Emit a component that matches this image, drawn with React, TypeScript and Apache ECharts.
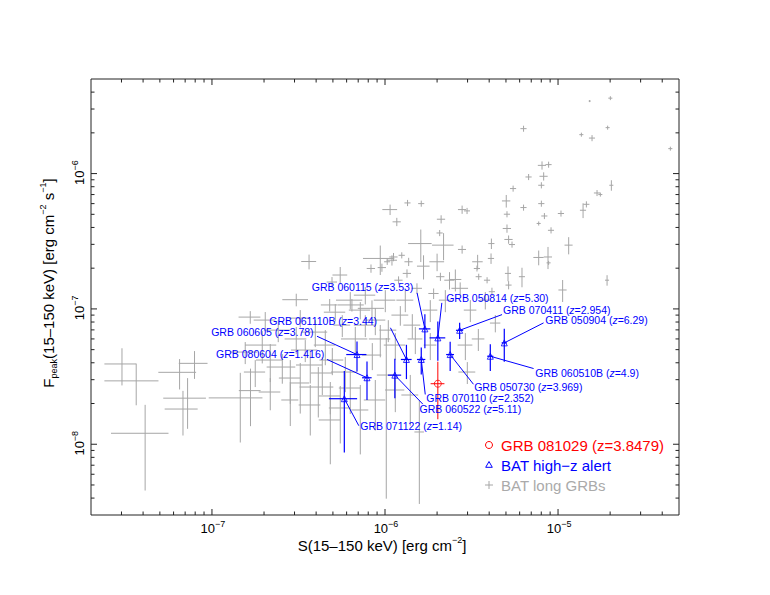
import { useEffect, useRef } from 'react';
import * as echarts from 'echarts';

// units for the data tables below
const S_UNIT = 1e-7; // fluence, erg cm^-2
const F_UNIT = 1e-8; // peak flux, erg cm^-2 s^-1

const X_RANGE = [2e-8, 5e-5];
const Y_RANGE = [3e-9, 5e-6];
const X_TICK_LABELS = [1e-7, 1e-6, 1e-5];
const Y_TICK_LABELS = [1e-8, 1e-7, 1e-6];

// BAT long GRBs: [S, dS, Fpeak, dFpeak] in S_UNIT / F_UNIT
const BAT_LONG: number[][] = [
  [0.302, 0.063, 3.92, 1.2], [0.365, 0.126, 2.94, 1.0], [0.411, 0.15, 1.205, 0.75],
  [0.65, 0.16, 3.4, 0.86], [0.793, 0.15, 3.96, 0.92], [0.723, 0.2, 2.19, 0.89],
  [0.68, 0.147, 1.82, 0.66], [1.458, 0.5, 2.2, 1.17], [1.67, 0.24, 2.49, 1.13],
  [3.64, 0.36, 22.4, 2.8], [3.07, 0.52, 11.7, 1.25], [5.51, 0.54, 17.8, 2.6],
  [4.94, 0.34, 15.8, 1.4], [10.7, 1.05, 54.2, 4.8], [11.7, 0.64, 44, 3.1],
  [9.39, 1.93, 23.6, 5.8], [10.97, 0.76, 22.9, 2.0], [8.3, 0.46, 19.9, 1.4],
  [9.6, 0.53, 20.2, 1.4], [4.79, 0.53, 10.7, 1.14], [6.44, 1.1, 10.7, 1.14],
  [8.41, 1.45, 10.1, 1.47],
  [13.5, 0.55, 60.7, 3.2], [16.2, 0.66, 60, 3.1], [16.1, 2.5, 30.4, 8.2],
  [21.8, 3.1, 29.6, 6.7], [21.1, 1.16, 46, 3.2], [20.7, 0.85, 36.4, 1.9],
  [27.9, 1.5, 54.2, 3.8], [29.8, 1.2, 53, 2.8], [27.9, 1.5, 27.5, 1.9],
  [50.2, 2.8, 62.8, 6.7], [50.7, 2.1, 50.1, 2.6], [50.7, 2.8, 39.3, 2.75],
  [51.8, 2.85, 32.6, 2.3], [54.2, 2.2, 29.9, 1.56], [55, 2.25, 77.5, 4],
  [63.2, 2.6, 56.1, 2.9], [67.6, 2.8, 94.4, 4.9], [80.8, 4.4, 115, 8],
  [88.2, 3.6, 116.5, 6], [82.6, 4.5, 95.5, 6.7], [80.1, 3.3, 82, 4.3],
  [80.1, 3.3, 60, 3.1], [83.4, 3.4, 48.6, 2.5], [77.3, 2.1, 42.8, 1.5],
  [91.1, 3.7, 38.1, 2], [77.3, 5.3, 24, 3], [87.5, 4.8, 24.2, 4.5],
  [41.2, 1.7, 30.4, 2.7], [41, 1.7, 23.6, 2.1], [51.4, 2.1, 18.3, 2.3],
  [61.9, 2.5, 17.3, 2.85], [51.8, 2.1, 15, 1.05], [34.3, 2.4, 22.3, 2.8],
  [34, 1.4, 19.9, 1.0], [20, 1.96, 22.3, 3.3], [16.7, 1.4, 20.7, 4.2],
  [13.7, 0.75, 22.3, 1.56], [12.5, 0.52, 24.9, 1.3], [11.2, 0.62, 24.2, 1.7],
  [10.3, 0.42, 22.3, 1.16], [20.9, 1.15, 17.3, 1.2], [23.6, 1.6, 16.3, 2.4],
  [25.5, 2.1, 16.5, 3.05], [27.2, 3, 14.2, 1.5], [34.8, 1.4, 17.3, 0.9],
  [38.9, 1.6, 16.3, 0.85], [41.5, 1.7, 13.4, 0.94], [13.4, 0.74, 18.3, 1.3],
  [11.98, 0.66, 16.3, 1.1], [15.3, 1.06, 14.2, 1.26], [19.1, 1.3, 13, 1.16],
  [106.3, 5.8, 13.8, 2.55],
  [63.2, 2.6, 214.8, 11], [193.5, 5.2, 218.6, 7.5], [200.6, 5.4, 361, 12],
  [152.3, 2, 343.4, 6], [136.4, 3.7, 194, 6.6], [157.2, 6.4, 183, 9.5],
  [445.7, 12, 152.9, 5.2], [203.3, 5.5, 82, 7.3], [168, 6.9, 71.9, 3.7],
  [175.6, 4.7, 70, 2.4], [145.8, 6, 59.3, 3.1], [139.5, 5.7, 53.6, 6.7],
  [104, 4.3, 50.7, 2.6], [115.2, 6.2, 29.6, 4.3], [88.2, 2.4, 21.9, 0.76],
  [192, 5.2, 16.3, 1.45],
  [1.557, 0.27, 4.8, 0.89], [1.953, 0.4, 5.405, 1.45], [2.173, 0.376, 4.19, 1.31],
  [1.779, 0.25, 3.416, 0.77], [2.55, 0.48, 3.72, 0.92], [2.836, 0.4, 3.085, 1.1],
  [3.238, 0.41, 2.835, 1.15], [4.117, 0.91, 2.647, 1.07], [4.83, 0.69, 2.273, 0.61],
  [5.515, 0.78, 1.853, 0.84], [3.461, 0.6, 4.966, 0.92], [3.07, 0.44, 5.997, 1.36],
  [2.416, 0.42, 6.97, 1.29], [2.032, 0.29, 8.27, 1.21], [1.665, 0.24, 8.7, 0.93],
  [3.238, 0.46, 8.55, 1.25], [3.955, 0.68, 6.74, 1.52], [4.518, 0.64, 5.405, 1.57],
  [3.7, 0.64, 3.85, 1.04], [4.342, 0.62, 3.36, 1.05], [4.96, 0.78, 4.19, 0.95],
  [5.895, 1.02, 3.416, 0.99], [6.3, 0.89, 2.603, 0.93], [6.735, 1.17, 5.997, 1.36],
  [7.694, 1.09, 7.59, 1.4], [5.665, 0.63, 7.59, 1.4], [5.161, 0.73, 9.46, 1.38],
  [7.199, 1.02, 9.8, 1.43], [8.789, 1.25, 8.27, 1.87], [9.393, 1.33, 5.997, 1.61],
  [8.446, 1.07, 4.56, 1.03], [11.47, 1.63, 5.405, 1.22], [10.45, 1.17, 6.97, 1.29],
  [12.26, 1.37, 9.0, 1.49], [14.38, 1.61, 7.59, 1.56], [14.97, 1.47, 5.997, 1.36],
  [13.1, 1.47, 11.61, 2.15], [10.04, 1.43, 11.61, 2.15], [7.694, 1.09, 12.64, 1.85],
  [6.3, 1.09, 11.61, 1.7], [18.27, 1.79, 9.8, 1.81], [22.32, 1.85, 11.61, 2.15],
  [18.27, 1.52, 5.405, 1.22], [11.47, 1.46, 2.516, 0.79], [14.0, 1.57, 2.311, 0.94],
  [8.789, 1.25, 2.123, 0.86], [7.199, 0.81, 1.791, 0.95], [4.83, 0.69, 1.511, 0.8],
  [3.7, 0.53, 1.95, 0.79], [2.836, 0.32, 2.123, 0.76], [2.173, 0.31, 2.432, 0.65],
  [10.17, 1.2, 3.246, 2.85], [15.79, 1.0, 1.232, 0.87], [31.13, 2.6, 9.8, 1.81],
  [37.99, 2.6, 11.61, 1.7], [29.13, 2.85, 5.405, 1.22], [34.62, 2.9, 5.997, 1.11],
  [43.4, 3.0, 7.86, 1.15], [29.9, 3.35, 3.416, 0.63],
];

// BAT high-z alerts
const HIGHZ_NAMES = ['GRB 050814', 'GRB 060115', 'GRB 070411', 'GRB 050904', 'GRB 060510B', 'GRB 050730',
  'GRB 070110', 'GRB 061110B', 'GRB 060522', 'GRB 080604', 'GRB 060605', 'GRB 071122'];
const HIGHZ_Z = ['5.30', '3.53', '2.954', '6.29', '4.9', '3.969', '2.352', '3.44', '5.11', '1.416', '3.78', '1.14'];
const HIGHZ_S = [20.2, 17.0, 27.0, 48.9, 40.6, 23.8, 16.2, 13.3, 11.4, 7.87, 6.89, 5.82];
const HIGHZ_DS = [2.1, 1.3, 1.3, 1.7, 1.65, 1.25, 0.9, 0.95, 1.0, 0.5, 0.92, 1.08];
const HIGHZ_F = [6.11, 7.12, 6.95, 5.61, 4.47, 4.6, 4.23, 4.23, 3.24, 3.1, 4.6, 2.17];
const HIGHZ_DF = [1.97, 2.0, 0.95, 1.54, 1.0, 1.12, 0.95, 1.2, 1.05, 0.98, 1.15, 1.3];

// GRB 081029
const FOCUS_NAME = 'GRB 081029';
const FOCUS_Z = '3.8479';
const FOCUS_S = [20.2];
const FOCUS_DS = [1.85];
const FOCUS_F = [2.8];
const FOCUS_DF = [1.27];

// label layout: pixel offsets from marker [lineDx, lineDy, textDx, textDy, align]
const LABEL_LAYOUT: [number, number, number, number, string][] = [
  [4, -35, 8.3, -40, 'left'],
  [-7.8, -36, -11.5, -42, 'right'],
  [42.4, -15.7, 43.4, -20.7, 'left'],
  [39.3, -20, 41, -22.6, 'left'],
  [43.3, 12.3, 45, 16.6, 'left'],
  [23.3, 29.7, 24, 32.3, 'left'],
  [4, 35, 5, 38.8, 'left'],
  [-16, -31.7, -29.3, -38.3, 'right'],
  [28, 29, 24.7, 33.8, 'left'],
  [-40, -18.3, -42.7, -23.3, 'right'],
  [-40, -18.3, -43.4, -22.7, 'right'],
  [14.5, 27, 16, 27.4, 'left'],
];

const FONT = '"Liberation Sans", Arial, Helvetica, sans-serif';
const BLUE = '#0000ff';
const RED = '#ff0000';
const GRAY = '#a6a6a6';
const AXIS = '#222';

const toRows = (s: number[], ds: number[], f: number[], df: number[]) =>
  s.map((v, i) => [v * S_UNIT, ds[i] * S_UNIT, f[i] * F_UNIT, df[i] * F_UNIT, i]);

const grayRows = BAT_LONG.map(([s, ds, f, df], i) => [s * S_UNIT, ds * S_UNIT, f * F_UNIT, df * F_UNIT, i]);
const highzRows = toRows(HIGHZ_S, HIGHZ_DS, HIGHZ_F, HIGHZ_DF);
const focusRows = toRows(FOCUS_S, FOCUS_DS, FOCUS_F, FOCUS_DF);

function errorBars(color: string, width: number) {
  return (params: any, api: any) => {
    const s = api.value(0), ds = api.value(1), f = api.value(2), df = api.value(3);
    const c = api.coord([s, f]);
    const l = api.coord([Math.max(s - ds, 1e-14), f]);
    const r = api.coord([s + ds, f]);
    const b = api.coord([s, Math.max(f - df, 1e-14)]);
    const t = api.coord([s, f + df]);
    const style = { stroke: color, lineWidth: width };
    return {
      type: 'group',
      children: [
        { type: 'line', shape: { x1: l[0], y1: c[1], x2: r[0], y2: c[1] }, style },
        { type: 'line', shape: { x1: c[0], y1: t[1], x2: c[0], y2: b[1] }, style },
      ],
    };
  };
}

function logTicks(lo: number, hi: number) {
  const out: number[][] = [];
  for (let n = Math.floor(Math.log10(lo)); n <= Math.ceil(Math.log10(hi)); n++) {
    for (let m = 1; m <= 9; m++) {
      const v = m * Math.pow(10, n);
      if (v > lo * 1.0001 && v < hi * 0.9999) out.push([v, m === 1 ? 1 : 0]);
    }
  }
  return out;
}

const tickRows = [
  ...logTicks(X_RANGE[0], X_RANGE[1]).map(([v, maj]) => [v, Y_RANGE[0], maj]),
  ...logTicks(Y_RANGE[0], Y_RANGE[1]).map(([v, maj]) => [X_RANGE[0], v, 2 + maj]),
];

const powText = (v: number, list: number[]) => {
  const lg = Math.log10(v);
  if (!list.some((t) => Math.abs(Math.log10(t) - lg) < 1e-6)) return '';
  const e = Math.round(lg);
  return `{b|10}{s|${e < 0 ? '\u2212' : ''}${Math.abs(e)}}`;
};

const tickRich = {
  b: { fontSize: 13, lineHeight: 17, fontFamily: FONT, fill: '#000' },
  s: { fontSize: 9, lineHeight: 9, verticalAlign: 'top', fontFamily: FONT, fill: '#000' },
};

const titleRich = {
  m: { fontSize: 15, lineHeight: 20, fontFamily: FONT, fill: '#000' },
  s: { fontSize: 9, lineHeight: 9, verticalAlign: 'top', fontFamily: FONT, fill: '#000' },
  sub: { fontSize: 9, lineHeight: 9, verticalAlign: 'bottom', fontFamily: FONT, fill: '#000' },
};

export default function App() {
  const ref = useRef<HTMLDivElement>(null);
  useEffect(() => {
    const chart = echarts.init(ref.current!, null, { renderer: 'svg' });
    const option: any = {
      animation: false,
      backgroundColor: '#fff',
      grid: { left: 91, top: 79, right: 91, bottom: 80, show: true, borderColor: AXIS, borderWidth: 1, backgroundColor: 'transparent' },
      xAxis: {
        type: 'log', logBase: 10, min: X_RANGE[0], max: X_RANGE[1],
        axisLine: { show: false }, axisTick: { show: false }, splitLine: { show: false }, minorTick: { show: false },
        axisLabel: { show: false },
      },
      yAxis: {
        type: 'log', logBase: 10, min: Y_RANGE[0], max: Y_RANGE[1],
        axisLine: { show: false }, axisTick: { show: false }, splitLine: { show: false }, minorTick: { show: false },
        axisLabel: { show: false },
      },
      series: [
        {
          type: 'custom', name: 'BAT long GRBs', silent: true, clip: true,
          dimensions: ['S', 'dS', 'F', 'dF', 'i'], encode: { x: 0, y: 2 },
          data: grayRows, renderItem: errorBars(GRAY, 1), z: 2,
        },
        {
          type: 'custom', name: 'BAT high-z alert bars', silent: true, clip: true,
          dimensions: ['S', 'dS', 'F', 'dF', 'i'], encode: { x: 0, y: 2 },
          data: highzRows, renderItem: errorBars(BLUE, 1.2), z: 3,
        },
        {
          type: 'custom', name: 'GRB 081029 bars', silent: true, clip: true,
          dimensions: ['S', 'dS', 'F', 'dF', 'i'], encode: { x: 0, y: 2 },
          data: focusRows, renderItem: errorBars(RED, 1), z: 3,
        },
        {
          type: 'custom', name: 'labels', silent: true,
          dimensions: ['S', 'dS', 'F', 'dF', 'i'], encode: { x: 0, y: 2 },
          data: highzRows, z: 4,
          renderItem: (params: any, api: any) => {
            const i = api.value(4);
            const c = api.coord([api.value(0), api.value(2)]);
            const [ldx, ldy, tdx, tdy, align] = LABEL_LAYOUT[i];
            return {
              type: 'group',
              children: [
                { type: 'line', shape: { x1: c[0], y1: c[1], x2: c[0] + ldx, y2: c[1] + ldy }, style: { stroke: BLUE, lineWidth: 1 } },
                {
                  type: 'text', x: c[0] + tdx, y: c[1] + tdy,
                  style: {
                    text: `{n|${HIGHZ_NAMES[i]} (}{i|z}{n|=${HIGHZ_Z[i]})}`,
                    fill: BLUE, fontSize: 10.5, fontFamily: FONT, align, verticalAlign: 'middle',
                    rich: {
                      n: { fill: BLUE, fontSize: 10.5, lineHeight: 9, fontFamily: FONT },
                      i: { fill: BLUE, fontSize: 10.5, lineHeight: 9, fontFamily: FONT, fontStyle: 'italic' },
                    },
                  },
                },
              ],
            };
          },
        },
        {
          type: 'scatter', name: 'BAT high-z alert', silent: true, symbol: 'triangle', symbolSize: 6, z: 5,
          data: highzRows.map((r) => [r[0], r[2]]),
          itemStyle: { color: 'rgba(0,0,0,0)', borderColor: BLUE, borderWidth: 1 },
        },
        {
          type: 'scatter', name: FOCUS_NAME, silent: true, symbol: 'circle', symbolSize: 7, z: 5,
          data: focusRows.map((r) => [r[0], r[2]]),
          itemStyle: { color: 'rgba(0,0,0,0)', borderColor: RED, borderWidth: 1 },
        },
        {
          type: 'custom', name: 'ticks', silent: true, z: 6,
          dimensions: ['x', 'y', 'k'], encode: { x: 0, y: 1 },
          data: tickRows,
          renderItem: (params: any, api: any) => {
            const cs = params.coordSys;
            const k = api.value(2);
            const p = api.coord([api.value(0), api.value(1)]);
            const len = k % 2 === 1 ? 6 : 3.5;
            const st = { stroke: AXIS, lineWidth: 1 };
            const children: any[] = [];
            if (k < 2) {
              const x = p[0];
              children.push(
                { type: 'line', shape: { x1: x, y1: cs.y + cs.height, x2: x, y2: cs.y + cs.height - len }, style: st },
                { type: 'line', shape: { x1: x, y1: cs.y, x2: x, y2: cs.y + len }, style: st },
              );
              const txt = k === 1 ? powText(api.value(0), X_TICK_LABELS) : '';
              if (txt) {
                children.push({
                  type: 'text', x: x + 1, y: cs.y + cs.height + 13,
                  style: { text: txt, rich: tickRich, align: 'center', verticalAlign: 'middle', fill: '#000', fontSize: 13, fontFamily: FONT },
                });
              }
            } else {
              const y = p[1];
              children.push(
                { type: 'line', shape: { x1: cs.x, y1: y, x2: cs.x + len, y2: y }, style: st },
                { type: 'line', shape: { x1: cs.x + cs.width, y1: y, x2: cs.x + cs.width - len, y2: y }, style: st },
              );
              const txt = k === 3 ? powText(api.value(1), Y_TICK_LABELS) : '';
              if (txt) {
                children.push({
                  type: 'text', x: cs.x - 12, y: y - 1, rotation: Math.PI / 2,
                  style: { text: txt, rich: tickRich, align: 'center', verticalAlign: 'middle', fill: '#000', fontSize: 13, fontFamily: FONT },
                });
              }
            }
            return { type: 'group', children };
          },
        },
      ],
      graphic: {
        elements: [
          {
            type: 'text', x: 382, y: 545, silent: true,
            style: { text: '{m|S(15\u2013150 keV) [erg cm}{s|\u22122}{m|]}', rich: titleRich, align: 'center', verticalAlign: 'middle', fill: '#000', fontSize: 15, fontFamily: FONT },
          },
          {
            type: 'text', x: 48, y: 283, rotation: Math.PI / 2, silent: true,
            style: { text: '{m|F}{sub|peak}{m|(15\u2013150 keV) [erg cm}{s|\u22122}{m| s}{s|\u22121}{m|]}', rich: titleRich, align: 'center', verticalAlign: 'middle', fill: '#000', fontSize: 15, fontFamily: FONT },
          },
          { type: 'circle', silent: true, shape: { cx: 489, cy: 445, r: 3.5 }, style: { fill: 'none', stroke: RED, lineWidth: 1 } },
          { type: 'polygon', silent: true, shape: { points: [[489, 461.5], [485.7, 467.3], [492.3, 467.3]] }, style: { fill: 'none', stroke: BLUE, lineWidth: 1 } },
          { type: 'line', silent: true, shape: { x1: 485, y1: 485, x2: 493, y2: 485 }, style: { stroke: GRAY, lineWidth: 1 } },
          { type: 'line', silent: true, shape: { x1: 489, y1: 481, x2: 489, y2: 489 }, style: { stroke: GRAY, lineWidth: 1 } },
          { type: 'text', x: 501, y: 445, silent: true, style: { text: `${FOCUS_NAME} (z=${FOCUS_Z})`, fill: RED, fontSize: 15, fontFamily: FONT, verticalAlign: 'middle' } },
          { type: 'text', x: 501, y: 465, silent: true, style: { text: 'BAT high\u2212z alert', fill: BLUE, fontSize: 15, fontFamily: FONT, verticalAlign: 'middle' } },
          { type: 'text', x: 501, y: 485, silent: true, style: { text: 'BAT long GRBs', fill: '#aaaaaa', fontSize: 15, fontFamily: FONT, verticalAlign: 'middle' } },
        ],
      },
    };
    chart.setOption(option);
    return () => chart.dispose();
  }, []);
  return <div ref={ref} style={{ position: 'fixed', left: 0, top: 0, width: 770, height: 595, background: '#fff' }} />;
}
